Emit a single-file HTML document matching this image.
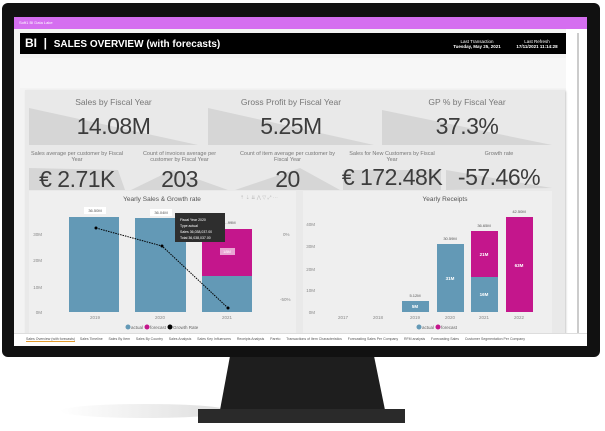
<!DOCTYPE html>
<html><head><meta charset="utf-8"><style>
body{margin:0;width:605px;height:431px;background:#fff;position:relative;overflow:hidden;font-family:"Liberation Sans",sans-serif}
.a{position:absolute}
.t{position:absolute;color:#777;font-size:7px;text-align:center}
.n{position:absolute;color:#3c3c3c;text-align:center;font-size:23px;letter-spacing:-0.5px}
</style></head><body>
<div class="a" style="left:60px;top:404px;width:170px;height:14px;background:linear-gradient(90deg,rgba(255,255,255,0),#ddd);border-radius:50%"></div>
<svg class="a" style="left:0;top:0" width="605" height="431">
<polygon points="230,356 374,356 385,410 220,410" fill="#1e1e1e"/>
<rect x="198" y="409" width="207" height="14" fill="#2a2a2a"/>
</svg>
<div class="a" style="left:2px;top:3px;width:598px;height:354px;background:#111;border-radius:6px"></div>
<div class="a" style="left:14px;top:17px;width:573px;height:328px;background:#f3f3f3"></div>
<div class="a" style="left:14px;top:17px;width:573px;height:12px;background:#d56ef0;color:#fff;font-size:4px;line-height:12px;padding-left:5px;box-sizing:border-box">Soft1 BI Data Lake</div>
<div class="a" style="left:566px;top:29px;width:21px;height:304px;background:#fff"></div>
<div class="a" style="left:577px;top:33px;width:2px;height:300px;background:#ccc"></div>
<div class="a" style="left:20px;top:33px;width:546px;height:21px;background:#000"></div>
<div class="a" style="left:25px;top:36px;color:#fff;font-weight:bold;font-size:12px">BI&nbsp;&nbsp;|&nbsp;&nbsp;<span style="font-size:10px">SALES OVERVIEW (with forecasts)</span></div>
<div class="a" style="left:452px;top:39px;color:#fff;font-size:4.5px;width:50px;text-align:center">Last Transaction<br><b>Tuesday, May 25, 2021</b></div>
<div class="a" style="left:512px;top:39px;color:#fff;font-size:4.5px;width:50px;text-align:center">Last Refresh<br><b>17/11/2021 11:14:28</b></div>
<div class="a" style="left:20px;top:58px;width:546px;height:30px;background:#f7f7f7"></div>
<div class="a" style="left:25px;top:90px;width:540px;height:245px;background:#e9e9e9;box-shadow:1px 1px 2px #ccc"></div>
<svg class="a" style="left:0;top:0" width="605" height="431">
<g fill="#d6d6d6">
<polygon points="29,108 198,145 29,145"/>
<polygon points="208,108 374,145 208,145"/>
<polygon points="382,110 552,145 382,145"/>
<polygon points="29,168 118,170 125,190 29,190"/>
<polygon points="131,190 172,170 228,190"/>
<polygon points="235,190 300,168 340,190"/>
<polygon points="343,170 441,170 441,190 343,190"/>
<polygon points="446,170 552,188 446,190"/>
</g>
</svg>
<div class="t" style="left:29px;top:97px;width:169px;font-size:8.5px">Sales by Fiscal Year</div>
<div class="t" style="left:208px;top:97px;width:166px;font-size:8.5px">Gross Profit by Fiscal Year</div>
<div class="t" style="left:382px;top:97px;width:170px;font-size:8.5px">GP % by Fiscal Year</div>
<div class="n" style="left:29px;top:113px;width:169px">14.08M</div>
<div class="n" style="left:208px;top:113px;width:166px">5.25M</div>
<div class="n" style="left:382px;top:113px;width:170px">37.3%</div>
<div class="t" style="left:29px;top:151px;width:96px;font-size:5.5px">Sales average per customer by Fiscal Year</div>
<div class="t" style="left:131px;top:151px;width:97px;font-size:5.5px">Count of invoices average per customer by Fiscal Year</div>
<div class="t" style="left:235px;top:151px;width:105px;font-size:5.5px">Count of item average per customer by Fiscal Year</div>
<div class="t" style="left:343px;top:151px;width:98px;font-size:5.5px">Sales for New Customers by Fiscal Year</div>
<div class="t" style="left:446px;top:151px;width:106px;font-size:5.5px">Growth rate</div>
<div class="n" style="left:24px;top:166px;width:106px">€ 2.71K</div>
<div class="n" style="left:131px;top:166px;width:97px">203</div>
<div class="n" style="left:235px;top:166px;width:105px">20</div>
<div class="n" style="left:338px;top:164px;width:108px">€ 172.48K</div>
<div class="n" style="left:446px;top:164px;width:106px">-57.46%</div>
<div class="a" style="left:29px;top:191px;width:267px;height:142px;background:#efefef"></div>
<div class="a" style="left:303px;top:191px;width:249px;height:142px;background:#efefef"></div>
<svg class="a" style="left:0;top:0" width="605" height="431" font-family="Liberation Sans,sans-serif">
<g font-size="4.5" fill="#888">
<text x="162" y="201" text-anchor="middle" font-size="6.5" fill="#555">Yearly Sales &amp; Growth rate</text>
<text x="445" y="201" text-anchor="middle" font-size="6.5" fill="#555">Yearly Receipts</text>
<text x="42" y="236" text-anchor="end">30M</text><text x="42" y="262" text-anchor="end">20M</text>
<text x="42" y="289" text-anchor="end">10M</text><text x="42" y="314" text-anchor="end">0M</text>
<text x="283" y="236">0%</text><text x="280" y="301">-50%</text>
<text x="315" y="226" text-anchor="end">40M</text><text x="315" y="248" text-anchor="end">30M</text>
<text x="315" y="271" text-anchor="end">20M</text><text x="315" y="292" text-anchor="end">10M</text><text x="315" y="314" text-anchor="end">0M</text>
<text x="95" y="319" text-anchor="middle">2019</text><text x="160" y="319" text-anchor="middle">2020</text><text x="227" y="319" text-anchor="middle">2021</text>
<text x="343" y="319" text-anchor="middle">2017</text><text x="378" y="319" text-anchor="middle">2018</text><text x="415" y="319" text-anchor="middle">2019</text>
<text x="450" y="319" text-anchor="middle">2020</text><text x="484" y="319" text-anchor="middle">2021</text><text x="519" y="319" text-anchor="middle">2022</text>
</g>
<g fill="#6399b6">
<rect x="69" y="217" width="50" height="95"/><rect x="135" y="218" width="51" height="94"/><rect x="202" y="276" width="50" height="36"/>
<rect x="402" y="301" width="27" height="11"/><rect x="437" y="244" width="27" height="68"/><rect x="471" y="277" width="27" height="35"/>
</g>
<g fill="#c4168c">
<rect x="202" y="229" width="50" height="47"/><rect x="471" y="231" width="27" height="46"/><rect x="506" y="217" width="27" height="95"/>
</g>
<g fill="#fff" font-size="4" text-anchor="middle">
<rect x="84" y="207" width="22" height="7"/><rect x="150" y="209" width="22" height="7"/>
<rect x="220" y="248" width="15" height="7" fill="#e9a6d3"/>
</g>
<g font-size="4" fill="#555" text-anchor="middle">
<text x="95" y="212">36.50M</text><text x="161" y="214">36.04M</text><text x="230" y="224">...99M</text><text x="227" y="253" fill="#fff">18M</text>
<text x="415" y="297">5.12M</text><text x="450" y="240">30.59M</text><text x="484" y="227">36.65M</text><text x="519" y="213">42.50M</text>
</g>
<g font-size="4.5" fill="#fff" font-weight="bold" text-anchor="middle">
<text x="415" y="308">5M</text><text x="450" y="280">31M</text><text x="484" y="256">21M</text><text x="484" y="296">16M</text><text x="519" y="267">63M</text>
</g>
<polyline points="96,228 162,246 228,308" fill="none" stroke="#000" stroke-width="1" stroke-dasharray="1.5,1"/>
<circle cx="96" cy="228" r="1.5"/><circle cx="162" cy="246" r="1.5"/><circle cx="228" cy="308" r="1.5"/>
<rect x="175" y="213" width="50" height="29" fill="#2e2e2e"/>
<g font-size="3.5" fill="#fff"><text x="180" y="221">Fiscal Year  2020</text><text x="180" y="227">Type  actual</text><text x="180" y="233">Sales  36,038,037.00</text><text x="180" y="239">Total  36,038,037.00</text></g>
<g font-size="4.5" fill="#666">
<circle cx="128" cy="327" r="2.5" fill="#6399b6"/><text x="131" y="329">actual</text>
<circle cx="147" cy="327" r="2.5" fill="#c4168c"/><text x="150" y="329">forecast</text>
<circle cx="170" cy="327" r="2.5" fill="#000"/><text x="173" y="329">Growth Rate</text>
<circle cx="419" cy="327" r="2.5" fill="#6399b6"/><text x="422" y="329">actual</text>
<circle cx="438" cy="327" r="2.5" fill="#c4168c"/><text x="441" y="329">forecast</text>
</g>
<g fill="#bbb" font-size="5"><text x="240" y="199">⇡ ⇣ ⇊ ⋀  ▽ ⤢ ⋯</text></g>
</svg>
<div class="a" style="left:14px;top:333px;width:573px;height:12px;background:#fff;border-top:1px solid #ddd;font-size:3.5px;color:#555;white-space:nowrap;line-height:11px;overflow:hidden">
<span style="margin-left:12px;border-bottom:1px solid #e39b2d">Sales Overview (with forecasts)</span>&nbsp;&nbsp;&nbsp;&nbsp; Sales Timeline &nbsp;&nbsp;&nbsp;&nbsp; Sales By Item &nbsp;&nbsp;&nbsp;&nbsp; Sales By Country &nbsp;&nbsp;&nbsp;&nbsp; Sales Analysis &nbsp;&nbsp;&nbsp;&nbsp; Sales Key Influencers &nbsp;&nbsp;&nbsp;&nbsp; Receipts Analysis &nbsp;&nbsp;&nbsp;&nbsp; Pareto &nbsp;&nbsp;&nbsp;&nbsp; Transactions of Item Characteristics &nbsp;&nbsp;&nbsp;&nbsp; Forecasting Sales Per Company &nbsp;&nbsp;&nbsp;&nbsp; RFM analysis &nbsp;&nbsp;&nbsp;&nbsp; Forecasting Sales &nbsp;&nbsp;&nbsp;&nbsp; Customer Segmentation Per Company</div>
</body></html>
